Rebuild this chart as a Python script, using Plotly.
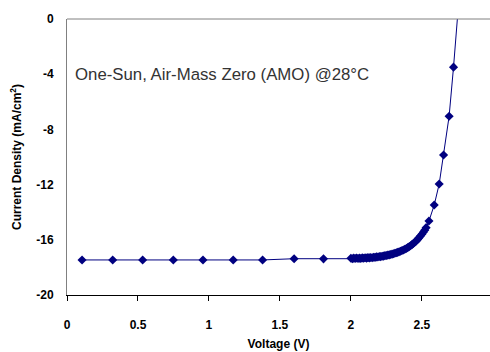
import plotly.graph_objects as go

# Data (Voltage in V, Current density in mA/cm^2)
voltage_low = [0.106, 0.322, 0.533, 0.749, 0.958, 1.171, 1.378, 1.600, 1.807]
current_low = [-17.46, -17.46, -17.46, -17.46, -17.46, -17.46, -17.46, -17.37, -17.38]

voltage_knee = [2.00, 2.01, 2.02, 2.03, 2.04, 2.05, 2.06, 2.07, 2.08, 2.09,
                2.10, 2.11, 2.12, 2.13, 2.14, 2.15, 2.16, 2.17, 2.18, 2.19,
                2.20, 2.21, 2.22, 2.23, 2.24, 2.25, 2.26, 2.27, 2.28, 2.29,
                2.30, 2.31, 2.32, 2.33, 2.34, 2.35, 2.36, 2.37, 2.38, 2.39,
                2.40, 2.41, 2.42, 2.43, 2.44, 2.45, 2.46, 2.47, 2.48, 2.49,
                2.50, 2.51, 2.52, 2.53]
current_knee = [-17.34, -17.37, -17.33, -17.36, -17.32, -17.35, -17.33, -17.36, -17.31, -17.34,
                -17.30, -17.33, -17.29, -17.31, -17.28, -17.30, -17.26, -17.27, -17.24, -17.25,
                -17.21, -17.22, -17.19, -17.18, -17.15, -17.14, -17.11, -17.09, -17.06, -17.04,
                -17.01, -16.98, -16.94, -16.91, -16.87, -16.83, -16.78, -16.74, -16.68, -16.63,
                -16.57, -16.50, -16.43, -16.35, -16.27, -16.18, -16.08, -15.97, -15.86, -15.73,
                -15.60, -15.45, -15.30, -15.12]

voltage_high = [2.550, 2.587, 2.622, 2.653, 2.692, 2.723]
current_high = [-14.64, -13.48, -11.96, -9.86, -7.05, -3.49]

# line continues past the top of the axis
voltage_end = [2.752]
current_end = [0.25]

V = voltage_low + voltage_knee + voltage_high
J = current_low + current_knee + current_high

x_ticks = [0, 0.5, 1, 1.5, 2, 2.5]
x_ticklabels = ["0", "0.5", "1", "1.5", "2", "2.5"]
y_ticks = [0, -4, -8, -12, -16, -20]
y_ticklabels = ["0", "-4", "-8", "-12", "-16", "-20"]

NAVY = "#000080"
FONT = "Arial, Liberation Sans, sans-serif"

fig = go.Figure()
fig.add_trace(go.Scatter(x=V + voltage_end, y=J + current_end, mode="lines",
                         line=dict(color=NAVY, width=1), hoverinfo="skip",
                         showlegend=False))
fig.add_trace(go.Scatter(x=V, y=J, mode="markers",
                         marker=dict(symbol="diamond", size=7, color=NAVY,
                                     line=dict(width=0)),
                         showlegend=False))

fig.add_annotation(x=0.045, y=-4.05, xref="x", yref="y", text="One-Sun, Air-Mass Zero (AMO) @28°C",
                   showarrow=False, xanchor="left", yanchor="middle",
                   font=dict(family=FONT, size=16.8, color="#333333"))

# top border of plot area
fig.add_shape(type="line", xref="paper", yref="paper", x0=0, x1=1, y0=1, y1=1,
              line=dict(color="#808080", width=1))

fig.update_layout(
    width=490, height=352,
    margin=dict(l=67, r=0, t=19, b=57),
    paper_bgcolor="white", plot_bgcolor="white",
    font=dict(family=FONT, color="black"),
    xaxis=dict(range=[0, 2.98], tickvals=x_ticks, ticktext=x_ticklabels,
               automargin=False,
               showgrid=False, zeroline=False, showline=True, linecolor="black",
               linewidth=1, ticks="outside", ticklen=5, tickcolor="black",
               tickfont=dict(family=FONT, size=12, weight="bold"),
               ticklabelstandoff=14,
               title=dict(text="Voltage (V)", standoff=8,
                          font=dict(family=FONT, size=12, weight="bold"))),
    yaxis=dict(range=[-20, 0], tickvals=y_ticks, ticktext=y_ticklabels,
               automargin=False,
               showgrid=False, zeroline=False, showline=True, linecolor="#808080",
               linewidth=1, ticks="",
               tickfont=dict(family=FONT, size=12, weight="bold"),
               ticklabelstandoff=10,
               title=dict(text="Current Density (mA/cm<sup>2</sup>)", standoff=12,
                          font=dict(family=FONT, size=12, weight="bold"))),
)

fig.write_html("out.html", config={"displayModeBar": False},
               post_script="document.body.style.margin='0';document.body.style.overflow='hidden';")
